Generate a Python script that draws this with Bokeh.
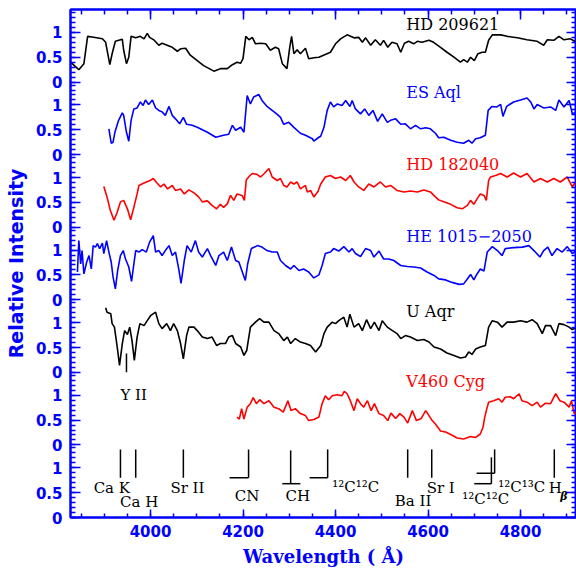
from bokeh.plotting import figure
from bokeh.models import Range1d, FixedTicker, LinearAxis
from bokeh.core.properties import value
from bokeh.embed import file_html
from bokeh.resources import INLINE

# ---------------- data ----------------
OFFSET = 1.46   # vertical spacing between stacked spectra (relative-intensity units)

star_names = ["HD 209621", "ES Aql", "HD 182040", "HE 1015\u22122050", "U Aqr", "V460 Cyg"]
star_panels = [6, 5, 4, 3, 2, 1]
star_colors = ["black", "blue", "red", "blue", "black", "red"]
name_wave = [4553, 4553, 4553, 4553, 4553, 4553]
name_level = [1.16, 1.26, 1.26, 1.28, 1.23, 1.27]

hd209621_wave = [3827, 3845, 3856, 3864, 3877, 3896, 3903, 3912, 3917, 3924, 3939, 3942, 3948, 3953, 3958,
                 3968, 3978, 3986, 3993, 3998, 4007, 4018, 4025, 4036, 4047, 4058, 4065, 4076, 4086, 4101,
                 4115, 4137, 4151, 4166, 4177, 4187, 4195, 4200, 4206, 4213, 4220, 4227, 4238, 4249, 4259,
                 4270, 4277, 4285, 4295, 4301, 4305, 4310, 4317, 4324, 4335, 4342, 4353, 4364, 4374, 4389,
                 4400, 4411, 4425, 4440, 4450, 4458, 4465, 4476, 4486, 4497, 4504, 4513, 4522, 4533, 4541,
                 4549, 4558, 4569, 4577, 4587, 4602, 4612, 4627, 4641, 4656, 4670, 4677, 4685, 4692, 4700,
                 4708, 4717, 4724, 4731, 4739, 4757, 4771, 4793, 4814, 4836, 4850, 4858, 4872, 4883, 4894,
                 4908, 4921]
hd209621_flux = [0.40, 0.25, 0.37, 0.92, 0.90, 0.87, 0.80, 0.35, 0.57, 0.82, 0.86, 0.64, 0.37, 0.50, 0.92,
                 0.89, 0.92, 0.87, 0.98, 0.90, 0.85, 0.74, 0.78, 0.74, 0.70, 0.62, 0.67, 0.68, 0.54, 0.43,
                 0.33, 0.22, 0.27, 0.27, 0.35, 0.40, 0.38, 0.47, 0.92, 0.85, 0.90, 0.77, 0.78, 0.77, 0.64,
                 0.70, 0.67, 0.37, 0.27, 0.70, 0.92, 0.57, 0.65, 0.57, 0.68, 0.47, 0.49, 0.50, 0.54, 0.60,
                 0.77, 0.87, 0.95, 0.89, 0.90, 0.80, 0.89, 0.74, 0.85, 0.74, 0.84, 0.70, 0.80, 0.77, 0.60,
                 0.78, 0.82, 0.77, 0.82, 0.80, 0.84, 0.80, 0.70, 0.60, 0.50, 0.40, 0.45, 0.40, 0.50, 0.43,
                 0.57, 0.60, 0.60, 0.84, 0.95, 0.95, 0.92, 0.89, 0.85, 0.82, 0.74, 0.85, 0.84, 0.92, 0.85,
                 0.87, 0.80]

esaql_wave = [3910, 3915, 3919, 3923, 3931, 3939, 3942, 3948, 3953, 3958, 3964, 3971, 3978, 3984, 3989,
              3996, 4004, 4011, 4018, 4025, 4032, 4040, 4047, 4054, 4063, 4071, 4078, 4090, 4101, 4112,
              4123, 4141, 4158, 4169, 4177, 4184, 4195, 4202, 4209, 4216, 4223, 4234, 4241, 4252, 4263,
              4274, 4281, 4288, 4299, 4310, 4324, 4335, 4350, 4353, 4364, 4368, 4375, 4382, 4389, 4396,
              4404, 4414, 4422, 4431, 4436, 4443, 4454, 4463, 4472, 4481, 4491, 4501, 4512, 4519, 4530,
              4541, 4551, 4562, 4573, 4584, 4595, 4605, 4616, 4623, 4634, 4649, 4663, 4677, 4688, 4695,
              4703, 4713, 4724, 4730, 4738, 4749, 4757, 4762, 4770, 4785, 4800, 4814, 4822, 4829, 4836,
              4850, 4865, 4876, 4883, 4894, 4905, 4912, 4921]
esaql_flux = [0.52, 0.23, 0.25, 0.45, 0.69, 0.84, 0.79, 0.45, 0.27, 0.69, 0.92, 0.94, 1.06, 0.99, 1.10,
              1.01, 1.10, 0.94, 0.89, 0.86, 0.79, 0.97, 0.79, 0.72, 0.62, 0.75, 0.61, 0.59, 0.55, 0.50,
              0.45, 0.35, 0.39, 0.41, 0.59, 0.49, 0.55, 0.45, 1.19, 1.02, 1.16, 1.21, 1.09, 0.97, 0.89,
              0.81, 0.75, 0.61, 0.65, 0.55, 0.43, 0.39, 0.32, 0.27, 0.35, 0.37, 0.55, 0.89, 1.06, 0.96,
              1.02, 0.99, 1.09, 0.97, 1.09, 0.92, 0.82, 0.92, 0.79, 0.89, 0.67, 0.82, 0.65, 0.69, 0.72,
              0.61, 0.62, 0.52, 0.59, 0.52, 0.54, 0.52, 0.43, 0.34, 0.35, 0.29, 0.25, 0.23, 0.29, 0.23,
              0.32, 0.34, 0.39, 0.89, 0.97, 0.96, 1.01, 0.77, 0.97, 1.06, 1.10, 1.14, 1.06, 0.92, 1.01,
              0.94, 0.96, 0.89, 1.10, 0.96, 1.09, 0.82, 0.86]

hd182040_wave = [3899, 3906, 3913, 3921, 3928, 3935, 3942, 3950, 3957, 3964, 3971, 3975, 3986, 3999, 4006,
                 4014, 4022, 4029, 4037, 4047, 4054, 4065, 4073, 4083, 4094, 4104, 4112, 4123, 4133, 4143,
                 4151, 4158, 4166, 4173, 4180, 4187, 4198, 4203, 4207, 4213, 4220, 4231, 4238, 4246, 4256,
                 4263, 4274, 4281, 4288, 4295, 4303, 4310, 4317, 4324, 4335, 4339, 4346, 4353, 4362, 4368,
                 4378, 4389, 4400, 4411, 4422, 4432, 4440, 4450, 4461, 4472, 4483, 4497, 4508, 4519, 4533,
                 4548, 4562, 4577, 4591, 4605, 4616, 4623, 4634, 4649, 4663, 4674, 4685, 4692, 4699, 4706,
                 4713, 4721, 4726, 4731, 4735, 4746, 4757, 4771, 4785, 4800, 4814, 4829, 4843, 4858, 4872,
                 4886, 4901, 4912, 4921]
hd182040_flux = [0.82, 0.61, 0.34, 0.14, 0.30, 0.51, 0.54, 0.37, 0.15, 0.40, 0.67, 0.84, 0.89, 0.94, 0.98,
                 0.89, 0.81, 0.87, 0.77, 0.84, 0.74, 0.77, 0.67, 0.75, 0.69, 0.61, 0.51, 0.53, 0.44, 0.37,
                 0.46, 0.40, 0.47, 0.64, 0.54, 0.67, 0.64, 0.54, 0.95, 1.02, 1.08, 1.06, 1.01, 1.08, 1.18,
                 1.01, 0.94, 0.98, 0.84, 0.81, 0.91, 0.87, 0.91, 0.77, 0.84, 0.71, 0.74, 0.61, 0.72, 0.87,
                 1.01, 1.04, 0.98, 1.01, 0.94, 1.04, 0.91, 0.81, 0.74, 0.87, 0.81, 0.91, 0.81, 0.84, 0.74,
                 0.71, 0.73, 0.71, 0.75, 0.71, 0.61, 0.55, 0.51, 0.46, 0.39, 0.37, 0.44, 0.54, 0.46, 0.57,
                 0.67, 0.64, 0.54, 0.94, 1.01, 1.04, 1.08, 1.01, 1.09, 1.01, 1.08, 0.91, 0.98, 0.91, 0.98,
                 0.91, 1.01, 0.81, 0.94]

he1015_wave = [3842, 3845, 3849, 3852, 3856, 3862, 3867, 3872, 3876, 3881, 3885, 3890, 3896, 3899, 3905,
               3910, 3915, 3919, 3924, 3929, 3935, 3941, 3946, 3953, 3959, 3964, 3968, 3975, 3982, 3991,
               3998, 4006, 4011, 4018, 4025, 4032, 4040, 4047, 4054, 4061, 4066, 4073, 4079, 4088, 4097,
               4104, 4112, 4123, 4130, 4141, 4148, 4158, 4166, 4175, 4184, 4191, 4200, 4205, 4210, 4218,
               4231, 4241, 4252, 4263, 4274, 4281, 4292, 4303, 4310, 4321, 4331, 4342, 4353, 4364, 4371,
               4378, 4389, 4396, 4407, 4418, 4429, 4436, 4443, 4454, 4465, 4476, 4483, 4494, 4504, 4515,
               4526, 4541, 4555, 4569, 4584, 4598, 4613, 4623, 4638, 4652, 4667, 4677, 4685, 4692, 4699,
               4706, 4713, 4721, 4728, 4739, 4750, 4760, 4767, 4785, 4804, 4818, 4829, 4842, 4850, 4859,
               4868, 4879, 4890, 4901, 4912, 4921]
he1015_flux = [0.56, 1.19, 0.72, 0.99, 0.52, 0.76, 0.89, 0.62, 1.09, 1.06, 1.13, 1.03, 1.14, 0.93, 1.19,
               0.96, 0.76, 0.46, 0.22, 0.59, 0.89, 0.99, 0.82, 0.66, 0.37, 0.72, 0.99, 0.96, 1.01, 0.96,
               1.16, 1.29, 0.96, 0.99, 0.89, 0.99, 1.09, 0.89, 0.96, 0.62, 0.33, 0.79, 1.09, 0.96, 1.19,
               0.96, 0.86, 1.03, 0.89, 0.69, 0.89, 0.96, 0.79, 1.06, 0.79, 0.76, 0.52, 0.39, 0.72, 1.03,
               1.09, 1.06, 0.99, 0.96, 0.96, 0.79, 0.69, 0.62, 0.69, 0.59, 0.62, 0.56, 0.44, 0.50, 0.69,
               0.93, 0.96, 1.03, 0.98, 1.07, 0.96, 1.03, 0.93, 0.87, 1.03, 0.99, 0.86, 0.98, 0.82, 0.82,
               0.79, 0.69, 0.67, 0.66, 0.64, 0.56, 0.49, 0.42, 0.40, 0.35, 0.31, 0.32, 0.42, 0.51, 0.40,
               0.52, 0.62, 0.58, 0.96, 1.07, 0.99, 0.89, 1.03, 1.05, 1.06, 1.09, 0.99, 0.86, 0.99, 1.06,
               0.89, 1.03, 0.96, 1.07, 0.93, 0.99]

uaqr_wave = [3903, 3906, 3914, 3917, 3922, 3928, 3933, 3939, 3944, 3950, 3955, 3960, 3965, 3971, 3977,
             3986, 3993, 4000, 4011, 4018, 4025, 4035, 4043, 4050, 4058, 4065, 4071, 4078, 4083, 4094,
             4101, 4112, 4123, 4133, 4143, 4151, 4162, 4169, 4177, 4184, 4195, 4202, 4208, 4216, 4227,
             4236, 4245, 4256, 4267, 4277, 4288, 4296, 4303, 4313, 4324, 4335, 4346, 4357, 4368, 4375,
             4382, 4393, 4400, 4407, 4418, 4425, 4431, 4440, 4450, 4458, 4467, 4476, 4484, 4494, 4501,
             4512, 4523, 4533, 4541, 4551, 4562, 4577, 4591, 4602, 4613, 4627, 4641, 4656, 4670, 4681,
             4688, 4695, 4703, 4713, 4724, 4731, 4739, 4750, 4760, 4771, 4785, 4800, 4814, 4825, 4836,
             4847, 4854, 4865, 4876, 4883, 4894, 4905, 4912, 4921]
uaqr_flux = [1.30, 1.21, 1.18, 0.98, 0.91, 0.51, 0.14, 0.58, 0.84, 0.76, 0.91, 0.64, 0.24, 0.71, 0.98,
             0.94, 1.04, 1.14, 1.21, 0.98, 0.88, 0.98, 0.84, 0.98, 0.84, 0.58, 0.27, 0.74, 0.91, 0.91,
             0.84, 0.71, 0.68, 0.71, 0.54, 0.58, 0.58, 0.71, 0.74, 0.58, 0.51, 0.34, 0.44, 0.91, 1.01,
             1.08, 1.01, 1.01, 0.84, 0.78, 0.64, 0.71, 0.58, 0.68, 0.61, 0.58, 0.54, 0.41, 0.54, 0.78,
             0.91, 1.01, 0.98, 1.04, 1.11, 0.91, 1.17, 0.91, 0.98, 0.84, 1.06, 0.88, 1.01, 0.84, 1.04,
             0.91, 0.84, 0.78, 0.68, 0.74, 0.71, 0.64, 0.66, 0.61, 0.51, 0.47, 0.39, 0.34, 0.29, 0.31,
             0.41, 0.36, 0.47, 0.51, 0.54, 0.91, 1.04, 1.01, 0.91, 1.01, 1.01, 1.04, 1.01, 1.06, 0.98,
             0.78, 0.94, 0.94, 0.74, 0.98, 0.96, 0.91, 0.86, 0.91]

v460_wave = [4187, 4192, 4197, 4202, 4209, 4216, 4222, 4229, 4236, 4245, 4256, 4267, 4277, 4287, 4297,
             4304, 4313, 4324, 4335, 4342, 4353, 4364, 4371, 4378, 4385, 4393, 4404, 4414, 4419, 4425,
             4432, 4440, 4447, 4454, 4461, 4469, 4477, 4484, 4494, 4504, 4513, 4520, 4530, 4539, 4548,
             4556, 4566, 4575, 4585, 4595, 4602, 4609, 4616, 4627, 4638, 4649, 4663, 4677, 4692, 4703,
             4713, 4719, 4722, 4726, 4731, 4742, 4753, 4760, 4767, 4778, 4785, 4797, 4803, 4814, 4825,
             4836, 4843, 4854, 4865, 4876, 4885, 4894, 4905, 4910, 4916, 4921]
v460_flux = [0.56, 0.52, 0.73, 0.52, 0.76, 0.83, 0.95, 0.83, 0.91, 0.83, 0.89, 0.76, 0.73, 0.66, 0.89,
             0.69, 0.73, 0.63, 0.59, 0.49, 0.51, 0.56, 0.83, 0.99, 0.91, 0.99, 1.01, 0.99, 1.08, 1.03,
             0.89, 0.69, 0.93, 0.83, 0.76, 0.89, 0.69, 0.83, 0.63, 0.59, 0.49, 0.64, 0.53, 0.63, 0.56,
             0.44, 0.69, 0.49, 0.53, 0.69, 0.59, 0.49, 0.42, 0.28, 0.26, 0.21, 0.14, 0.12, 0.17, 0.15,
             0.22, 0.36, 0.53, 0.69, 0.86, 0.89, 0.93, 0.86, 0.96, 0.97, 0.93, 1.03, 0.89, 0.86, 0.79,
             0.86, 0.76, 0.84, 0.83, 1.03, 0.89, 0.86, 0.76, 0.89, 0.63, 0.66]

spectra_wave = [hd209621_wave, esaql_wave, hd182040_wave, he1015_wave, uaqr_wave, v460_wave]
spectra_flux = [hd209621_flux, esaql_flux, hd182040_flux, he1015_flux, uaqr_flux, v460_flux]

# line identifications (bottom panel): simple vertical markers
line_wave = [3935, 3968, 4071, 4556, 4608, 4873]
line_top = [1.37, 1.37, 1.37, 1.37, 1.37, 1.37]
line_bottom = [0.80, 0.80, 0.80, 0.80, 0.80, 0.80]
# molecular band heads: vertical at head + horizontal towards the blue
band_head = [4212, 4303, 4383, 4737, 4744]
band_start = [4171, 4285, 4344, 4700, 4705]
band_end = [4212, 4324, 4383, 4737, 4744]
band_top = [1.37, 1.35, 1.37, 1.21, 1.37]
band_level = [0.80, 0.68, 0.80, 0.68, 0.89]
# Y II marker under U Aqr (panel 2)
yii_wave = [3948]
yii_top = [0.38]
yii_bottom = [0.0]

id_text = ["Ca  K", "Ca  H", "Sr  II", "CN", "CH", "\u00b9\u00b2C\u00b9\u00b2C", "Ba  II", "Sr  I",
           "\u00b9\u00b2C\u00b9\u00b2C", "\u00b9\u00b2C\u00b9\u00b3C", "H"]
id_wave = [3877, 3934, 4043, 4182, 4292, 4393, 4528, 4597, 4674, 4752, 4861]
id_level = [0.59, 0.32, 0.59, 0.44, 0.44, 0.61, 0.34, 0.59, 0.38, 0.61, 0.59]
sub_text = ["\u03b2"]
sub_wave = [4886]
sub_level = [0.42]
yii_text = ["Y  II"]
yii_label_wave = [3935]
yii_label_level = [1.01 + OFFSET]

x_major = [4000, 4200, 4400, 4600, 4800]
x_minor = list(range(3850, 4921, 50))
NPANEL = 7

# ---------------- figure ----------------
BLUE = "#0000ff"
p = figure(width=576, height=570, x_range=Range1d(3827, 4921), y_range=Range1d(0, NPANEL * OFFSET),
           output_backend="svg", toolbar_location=None,
           x_axis_location=None, y_axis_location=None,
           min_border_left=70, min_border_right=0, min_border_top=9, min_border_bottom=53)
p.grid.visible = False
p.outline_line_color = BLUE
p.outline_line_width = 2
p.background_fill_color = "white"
p.border_fill_color = "white"

y_major = []
y_labels = {}
for k in range(NPANEL):
    for v, lab in ((0.0, "0"), (0.5, "0.5"), (1.0, "1")):
        t = k * OFFSET + v
        y_major.append(t)
        y_labels[t] = lab
y_minor = [k * OFFSET + j * 0.1 for k in range(NPANEL) for j in range(15) if k * OFFSET + j * 0.1 < NPANEL * OFFSET]

def style_axis(ax, labels=True):
    ax.axis_line_color = BLUE
    ax.axis_line_width = 2
    ax.major_tick_line_color = BLUE
    ax.minor_tick_line_color = BLUE
    ax.major_tick_line_width = 1.5
    ax.minor_tick_line_width = 1.5
    ax.major_tick_out = 0
    ax.minor_tick_out = 0
    ax.major_label_text_color = BLUE
    ax.major_label_text_font = "DejaVu Sans"
    ax.major_label_text_font_style = "bold"
    ax.major_label_text_font_size = "15px"
    ax.axis_label_text_color = BLUE
    ax.axis_label_text_font_style = "bold"
    if not labels:
        ax.major_label_text_font_size = "1px"
        ax.major_label_standoff = 0

left = LinearAxis(ticker=FixedTicker(ticks=y_major, minor_ticks=y_minor), major_label_overrides=y_labels,
                  axis_label="Relative Intensity")
style_axis(left)
left.major_tick_in = 10
left.minor_tick_in = 5
left.major_label_standoff = 8
left.axis_label_standoff = 6
left.axis_label_text_font = "DejaVu Sans"
left.axis_label_text_font_size = "19px"
p.add_layout(left, "left")

right = LinearAxis(ticker=FixedTicker(ticks=y_major, minor_ticks=y_minor),
                   major_label_overrides={t: "" for t in y_major})
style_axis(right, labels=False)
right.major_tick_in = 10
right.minor_tick_in = 5
p.add_layout(right, "right")

bottom = LinearAxis(ticker=FixedTicker(ticks=x_major, minor_ticks=x_minor), axis_label="Wavelength ( \u00c5)")
style_axis(bottom)
bottom.major_tick_in = 8
bottom.minor_tick_in = 4
bottom.major_label_standoff = 7
bottom.axis_label_standoff = 6
bottom.axis_label_text_font = "DejaVu Serif"
bottom.axis_label_text_font_size = "18px"
p.add_layout(bottom, "below")

top = LinearAxis(ticker=FixedTicker(ticks=x_major, minor_ticks=x_minor),
                 major_label_overrides={t: "" for t in x_major})
style_axis(top, labels=False)
top.major_tick_in = 10
top.minor_tick_in = 5
p.add_layout(top, "above")

# spectra
for k, w, f, c in zip(star_panels, spectra_wave, spectra_flux, star_colors):
    p.line(w, [v + k * OFFSET for v in f], line_color=c, line_width=1.6)

# star names
p.text(x=name_wave, y=[lv + k * OFFSET for lv, k in zip(name_level, star_panels)], text=star_names,
       text_color=star_colors, text_font=value("DejaVu Serif"), text_font_size="16px",
       text_align="left", text_baseline="middle")

# line markers
p.segment(x0=line_wave, y0=line_bottom, x1=line_wave, y1=line_top, line_color="black", line_width=1.5)
p.segment(x0=band_head, y0=band_level, x1=band_head, y1=band_top, line_color="black", line_width=1.5)
p.segment(x0=band_start, y0=band_level, x1=band_end, y1=band_level, line_color="black", line_width=1.5)
p.segment(x0=yii_wave, y0=[v + 2 * OFFSET for v in yii_bottom], x1=yii_wave,
          y1=[v + 2 * OFFSET for v in yii_top], line_color="black", line_width=1.5)

p.text(x=id_wave, y=id_level, text=id_text, text_color="black", text_font=value("DejaVu Serif"),
       text_font_size="15px", text_align="left", text_baseline="middle")
p.text(x=sub_wave, y=sub_level, text=sub_text, text_color="black", text_font=value("DejaVu Serif"),
       text_font_size="11px", text_font_style="bold italic", text_align="left", text_baseline="middle")
p.text(x=yii_label_wave, y=yii_label_level, text=yii_text, text_color="black", text_font=value("DejaVu Serif"),
       text_font_size="15px", text_align="left", text_baseline="middle")

open("out.html", "w").write(file_html(p, INLINE))
